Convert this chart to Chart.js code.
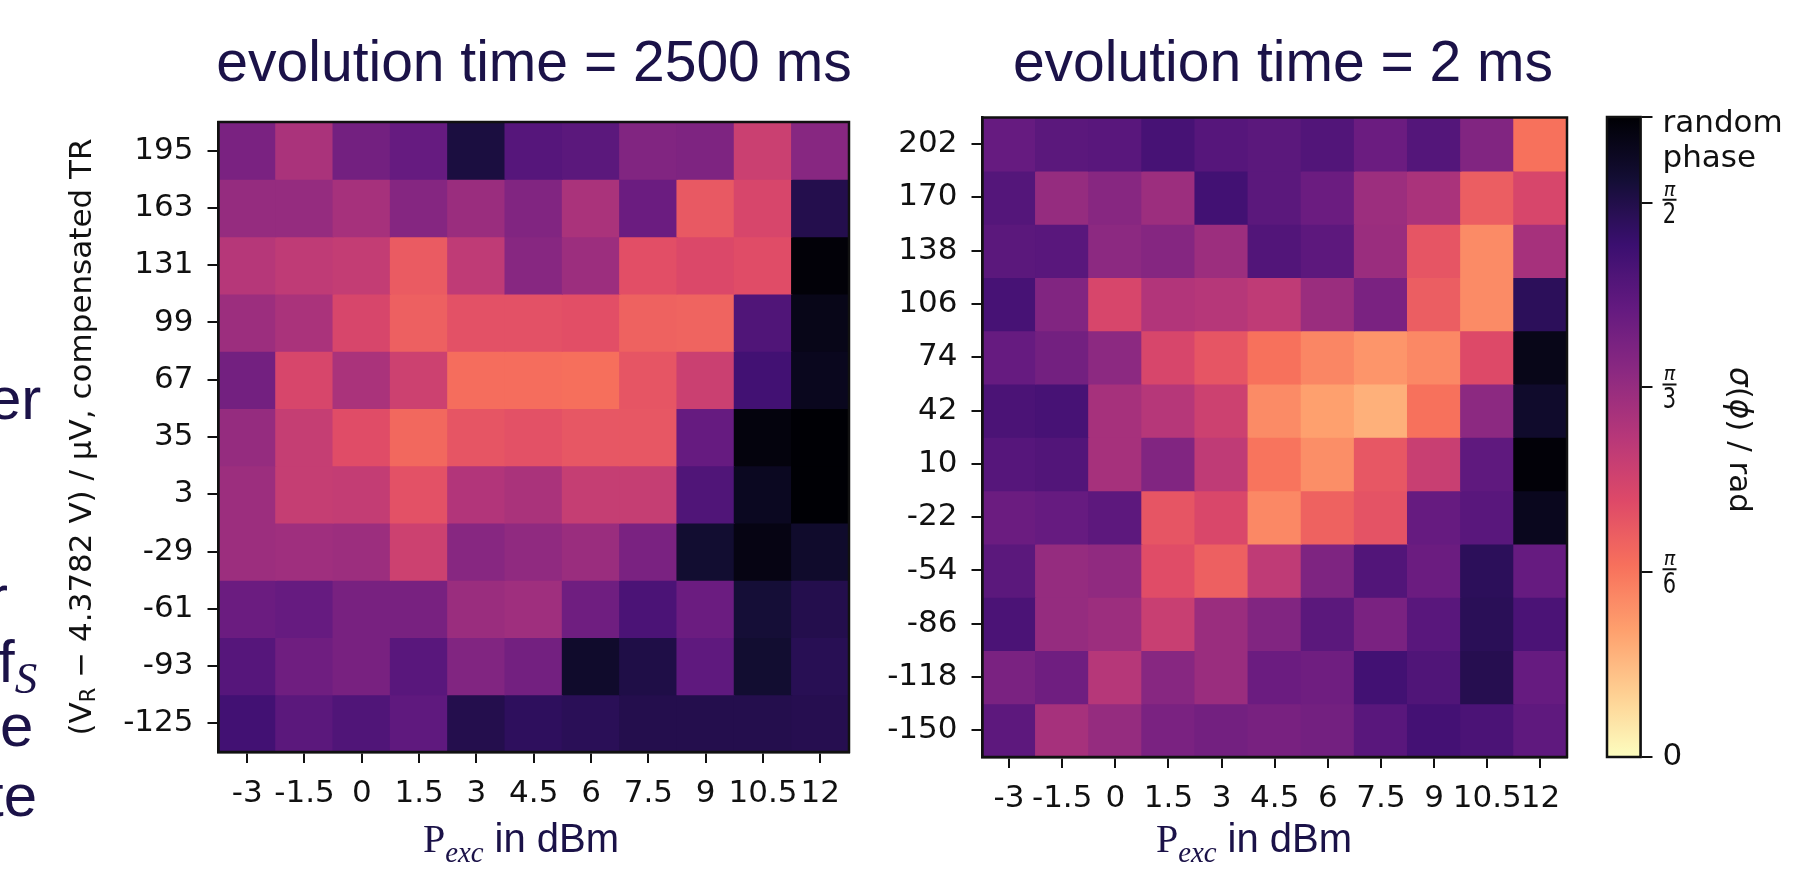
<!DOCTYPE html>
<html>
<head>
<meta charset="utf-8">
<title>Phase spread vs. excitation power</title>
<script src="https://cdn.jsdelivr.net/npm/chart.js@4.4.1/dist/chart.umd.min.js"></script>
<style>
  body { margin: 0; background: #fff; width: 1818px; height: 873px; overflow: hidden; position: relative; }
  canvas { position: absolute; top: 0; }
  .slide { position: absolute; font-family: 'Liberation Sans', sans-serif; color: #1b1248; white-space: nowrap; line-height: 1; }
  .title { font-size: 57px; transform: translateX(-50%); }
  .xlab { font-size: 40px; transform: translateX(-50%); }
  .serif { font-family: 'Liberation Serif', serif; }
  .sub { font-family: 'Liberation Serif', serif; font-style: italic; font-size: 0.72em; position: relative; top: 0.35em; }
  .frag { font-size: 60px; }
  .frag .sub { font-size: 0.75em; top: 0.25em; }
</style>
</head>
<body>
<canvas id="chartSlow" width="900" height="873" style="left:0"></canvas>
<canvas id="chartFast" width="710" height="873" style="left:880px"></canvas>
<canvas id="colorBar" width="228" height="873" style="left:1590px"></canvas>

<div class="slide title" style="left:534px; top:33px">evolution time = 2500 ms</div>
<div class="slide title" style="left:1283px; top:33px">evolution time = 2 ms</div>
<div class="slide xlab" style="left:521px; top:818px"><span class="serif">P</span><span class="sub">exc</span> in dBm</div>
<div class="slide xlab" style="left:1254px; top:818px"><span class="serif">P</span><span class="sub">exc</span> in dBm</div>

<!-- ends of the slide text running behind the figure -->
<div class="slide frag" style="left:-12px; top:369px">er</div>
<div class="slide frag" style="left:-12px; top:567px">r</div>
<div class="slide frag" style="left:-2px; top:632px">f<span class="sub">S</span></div>
<div class="slide frag" style="left:0px; top:696px">e</div>
<div class="slide frag" style="left:-13px; top:766px">te</div>

<script>
Chart.defaults.font.family = "'DejaVu Sans', sans-serif";
Chart.defaults.color = '#111';

/* axis categories */
var powerLabels = ['-3', '-1.5', '0', '1.5', '3', '4.5', '6', '7.5', '9', '10.5', '12'];
var offsetLabelsSlow = ['195', '163', '131', '99', '67', '35', '3', '-29', '-61', '-93', '-125'];
var offsetLabelsFast = ['202', '170', '138', '106', '74', '42', '10', '-22', '-54', '-86', '-118', '-150'];

/* sigma(phi) in rad, rows listed top to bottom, columns follow powerLabels */
var sigmaSlow = [
	[1.17, 0.96, 1.20, 1.26, 1.60, 1.33, 1.31, 1.14, 1.15, 0.82, 1.11],
	[1.05, 1.05, 0.98, 1.12, 1.03, 1.14, 0.96, 1.24, 0.65, 0.76, 1.56],
	[0.91, 0.87, 0.85, 0.64, 0.87, 1.11, 1.02, 0.70, 0.74, 0.71, 1.80],
	[1.02, 0.96, 0.76, 0.62, 0.69, 0.69, 0.70, 0.61, 0.60, 1.36, 1.74],
	[1.20, 0.76, 0.96, 0.81, 0.56, 0.56, 0.55, 0.67, 0.82, 1.42, 1.72],
	[1.05, 0.84, 0.71, 0.58, 0.67, 0.69, 0.66, 0.66, 1.26, 1.78, 1.81],
	[1.02, 0.84, 0.85, 0.69, 0.93, 0.96, 0.84, 0.84, 1.36, 1.71, 1.81],
	[1.02, 1.01, 1.02, 0.81, 1.11, 1.07, 1.03, 1.17, 1.65, 1.76, 1.67],
	[1.24, 1.26, 1.18, 1.18, 1.03, 1.01, 1.22, 1.38, 1.24, 1.63, 1.56],
	[1.33, 1.22, 1.18, 1.32, 1.14, 1.20, 1.67, 1.58, 1.29, 1.65, 1.54],
	[1.42, 1.31, 1.36, 1.29, 1.56, 1.51, 1.53, 1.56, 1.56, 1.56, 1.55]
];
var sigmaFast = [
	[1.26, 1.31, 1.32, 1.40, 1.33, 1.31, 1.35, 1.24, 1.34, 1.14, 0.54],
	[1.34, 1.05, 1.11, 1.02, 1.42, 1.31, 1.24, 1.02, 0.96, 0.63, 0.76],
	[1.31, 1.32, 1.09, 1.12, 1.02, 1.35, 1.30, 1.03, 0.67, 0.44, 0.98],
	[1.40, 1.14, 0.76, 0.93, 0.91, 0.87, 1.03, 1.17, 0.63, 0.44, 1.52],
	[1.26, 1.20, 1.09, 0.76, 0.67, 0.54, 0.46, 0.40, 0.45, 0.73, 1.74],
	[1.38, 1.40, 0.98, 0.91, 0.81, 0.44, 0.36, 0.30, 0.54, 1.09, 1.67],
	[1.33, 1.35, 0.98, 1.14, 0.87, 0.53, 0.43, 0.66, 0.83, 1.29, 1.80],
	[1.24, 1.26, 1.30, 0.67, 0.75, 0.45, 0.61, 0.68, 1.26, 1.32, 1.72],
	[1.31, 1.05, 1.07, 0.71, 0.62, 0.87, 1.15, 1.35, 1.24, 1.52, 1.26],
	[1.38, 1.05, 1.02, 0.83, 1.03, 1.14, 1.31, 1.17, 1.32, 1.53, 1.38],
	[1.17, 1.22, 0.91, 1.11, 1.03, 1.24, 1.22, 1.42, 1.36, 1.55, 1.26],
	[1.30, 0.98, 1.05, 1.17, 1.20, 1.18, 1.20, 1.32, 1.41, 1.38, 1.29]
];

/* colour scale: 0 .. spread of a uniformly random phase */
var SIGMA_MAX = Math.PI / Math.sqrt(3);
var cbTickValues = [0, Math.PI / 6, Math.PI / 3, Math.PI / 2, SIGMA_MAX];
var cbTickLabels = ['0', 'π/6', 'π/3', 'π/2', 'random phase'];

var MAGMA = ['#000004', '#140e36', '#3b0f70', '#641a80', '#8c2981', '#b73779',
	'#de4968', '#f7705c', '#fe9f6d', '#fecf92', '#fcfdbf'];

function hexRgb(h) {
	return [1, 3, 5].map(function (k) { return parseInt(h.substr(k, 2), 16); });
}

function magma(t) {
	t = Math.min(1, Math.max(0, t));
	var p = t * (MAGMA.length - 1);
	var i = Math.min(Math.floor(p), MAGMA.length - 2);
	var f = p - i;
	var a = hexRgb(MAGMA[i]), b = hexRgb(MAGMA[i + 1]);
	return 'rgb(' + [0, 1, 2].map(function (k) { return Math.round(a[k] + (b[k] - a[k]) * f); }).join(',') + ')';
}

// reversed magma: small spread is light, random phase is black
function sigmaColor(s) {
	return magma(1 - s / SIGMA_MAX);
}

// draw a row of differently styled text pieces centred on (cx, cy)
function drawRuns(ctx, runs, cx, cy) {
	var total = 0;
	runs.forEach(function (r) {
		ctx.font = r.font;
		r.w = ctx.measureText(r.text).width;
		total += r.w;
	});
	var x = cx - total / 2;
	ctx.textAlign = 'left';
	ctx.textBaseline = 'middle';
	runs.forEach(function (r) {
		ctx.font = r.font;
		ctx.fillText(r.text, x, cy + (r.dy || 0));
		x += r.w;
	});
}

var framePlugin = {
	id: 'frame',
	afterDraw: function (chart) {
		var a = chart.chartArea, ctx = chart.ctx;
		ctx.save();
		ctx.strokeStyle = '#111';
		ctx.lineWidth = 2.5;
		ctx.strokeRect(a.left, a.top, a.right - a.left, a.bottom - a.top);
		ctx.restore();
	}
};

var yTitlePlugin = {
	id: 'yTitle',
	afterDraw: function (chart) {
		var ctx = chart.ctx;
		ctx.save();
		ctx.fillStyle = '#111';
		ctx.translate(83, 437);
		ctx.rotate(-Math.PI / 2);
		drawRuns(ctx, [
			{ text: '(V', font: "31px 'DejaVu Sans'" },
			{ text: 'R', font: "21px 'DejaVu Sans'", dy: 7 },
			{ text: ' \u2212 4.3782 V) / \u00b5V, compensated TR', font: "31px 'DejaVu Sans'" }
		], 0, 0);
		ctx.restore();
	}
};

var colorbarLabels = {
	id: 'cbLabels',
	afterDraw: function (chart) {
		var ctx = chart.ctx, scale = chart.scales.y;
		var x0 = chart.chartArea.right + 22;
		ctx.save();
		ctx.fillStyle = '#111';
		ctx.strokeStyle = '#111';
		cbTickValues.forEach(function (v, i) {
			var y = scale.getPixelForValue(v);
			var lab = cbTickLabels[i];
			ctx.textAlign = 'left';
			if (lab.indexOf('/') > 0) {
				// stacked fraction: pi over the denominator
				var parts = lab.split('/');
				ctx.textAlign = 'center';
				ctx.textBaseline = 'middle';
				ctx.font = "italic 19px 'DejaVu Sans'";
				ctx.fillText(parts[0], x0 + 7, y - 12);
				ctx.lineWidth = 2;
				ctx.beginPath();
				ctx.moveTo(x0, y - 3);
				ctx.lineTo(x0 + 14, y - 3);
				ctx.stroke();
				ctx.save();
				ctx.translate(x0 + 7, y + 13);
				ctx.scale(0.75, 1);
				ctx.font = "28px 'DejaVu Sans'";
				ctx.fillText(parts[1], 0, 0);
				ctx.restore();
			} else if (lab.indexOf(' ') > 0) {
				var words = lab.split(' ');
				ctx.textBaseline = 'alphabetic';
				ctx.font = "31px 'DejaVu Sans'";
				ctx.fillText(words[0], x0, y + 15);
				ctx.fillText(words[1], x0, y + 50);
			} else {
				ctx.textBaseline = 'middle';
				ctx.font = "31px 'DejaVu Sans'";
				ctx.fillText(lab, x0, y);
			}
		});
		// colour bar title, read top to bottom
		ctx.translate(148, 440);
		ctx.rotate(Math.PI / 2);
		drawRuns(ctx, [
			{ text: '\u03c3', font: "italic 31px 'DejaVu Sans'" },
			{ text: '(', font: "31px 'DejaVu Sans'" },
			{ text: '\u03d5', font: "italic 31px 'DejaVu Sans'" },
			{ text: ') / rad', font: "31px 'DejaVu Sans'" }
		], 0, 0);
		ctx.restore();
	}
};

function heatmapChart(canvasId, rowLabels, rows, pad, yWidth, extraPlugins) {
	var n = rows.length;
	var bottomUp = rowLabels.slice().reverse();
	// one floating bar per cell, spanning row index +-0.5 on the y scale
	var datasets = rows.map(function (vals, k) {
		var r = n - 1 - k;
		return {
			label: rowLabels[k],
			data: vals.map(function () { return [r - 0.5, r + 0.5]; }),
			sigma: vals,
			backgroundColor: vals.map(sigmaColor),
			borderWidth: 0,
			inflateAmount: 0.6,
			barPercentage: 1,
			categoryPercentage: 1,
			grouped: false
		};
	});
	return new Chart(document.getElementById(canvasId), {
		type: 'bar',
		data: { labels: powerLabels, datasets: datasets },
		options: {
			responsive: false,
			animation: false,
			devicePixelRatio: 1,
			layout: { padding: pad },
			plugins: {
				legend: { display: false },
				tooltip: {
					callbacks: {
						label: function (c) { return 'σ = ' + c.dataset.sigma[c.dataIndex] + ' rad'; }
					}
				}
			},
			scales: {
				x: {
					grid: { offset: false, drawOnChartArea: false, tickLength: 11, color: '#111', lineWidth: 2 },
					border: { display: true, color: '#111', width: 2.5 },
					ticks: { autoSkip: false, maxRotation: 0, minRotation: 0, padding: 12, font: { size: 31 } },
					afterFit: function (s) { s.height = 60; }
				},
				y: {
					type: 'linear',
					min: -0.5,
					max: n - 0.5,
					grid: { drawOnChartArea: false, tickLength: 11, color: '#111', lineWidth: 2 },
					border: { display: true, color: '#111', width: 2.5 },
					ticks: {
						padding: 14,
						font: { size: 31 },
						callback: function (v) { return bottomUp[v]; }
					},
					afterBuildTicks: function (s) {
						s.ticks = bottomUp.map(function (_, i) { return { value: i }; });
					},
					afterFit: function (s) { s.width = yWidth; }
				}
			}
		},
		plugins: [framePlugin].concat(extraPlugins || [])
	});
}

var chartSlow = heatmapChart('chartSlow', offsetLabelsSlow, sigmaSlow,
	{ left: 118.5, right: 51, top: 122, bottom: 61 }, 100, [yTitlePlugin]);

var chartFast = heatmapChart('chartFast', offsetLabelsFast, sigmaFast,
	{ left: 7.5, right: 23, top: 117.5, bottom: 56 }, 95);

var colorBar = new Chart(document.getElementById('colorBar'), {
	type: 'bar',
	data: {
		labels: [''],
		datasets: [{
			data: [[0, SIGMA_MAX]],
			backgroundColor: function (c) {
				var a = c.chart.chartArea;
				if (!a) return null;
				var g = c.chart.ctx.createLinearGradient(0, a.bottom, 0, a.top);
				for (var i = 0; i <= 40; i++) {
					g.addColorStop(i / 40, magma(1 - i / 40));
				}
				return g;
			},
			borderWidth: 0,
			barPercentage: 1,
			categoryPercentage: 1
		}]
	},
	options: {
		responsive: false,
		animation: false,
		devicePixelRatio: 1,
		layout: { padding: { left: 17, right: 27.5, top: 117, bottom: 116 } },
		plugins: { legend: { display: false }, tooltip: { enabled: false } },
		scales: {
			x: { display: false },
			y: {
				position: 'right',
				min: 0,
				max: SIGMA_MAX,
				grid: { drawOnChartArea: false, tickLength: 12, color: '#111', lineWidth: 2 },
				border: { display: true, color: '#111', width: 2.5 },
				ticks: { display: false },
				afterBuildTicks: function (s) {
					s.ticks = cbTickValues.map(function (v) { return { value: v }; });
				},
				afterFit: function (s) { s.width = 150; }
			}
		}
	},
	plugins: [framePlugin, colorbarLabels]
});
</script>
</body>
</html>
